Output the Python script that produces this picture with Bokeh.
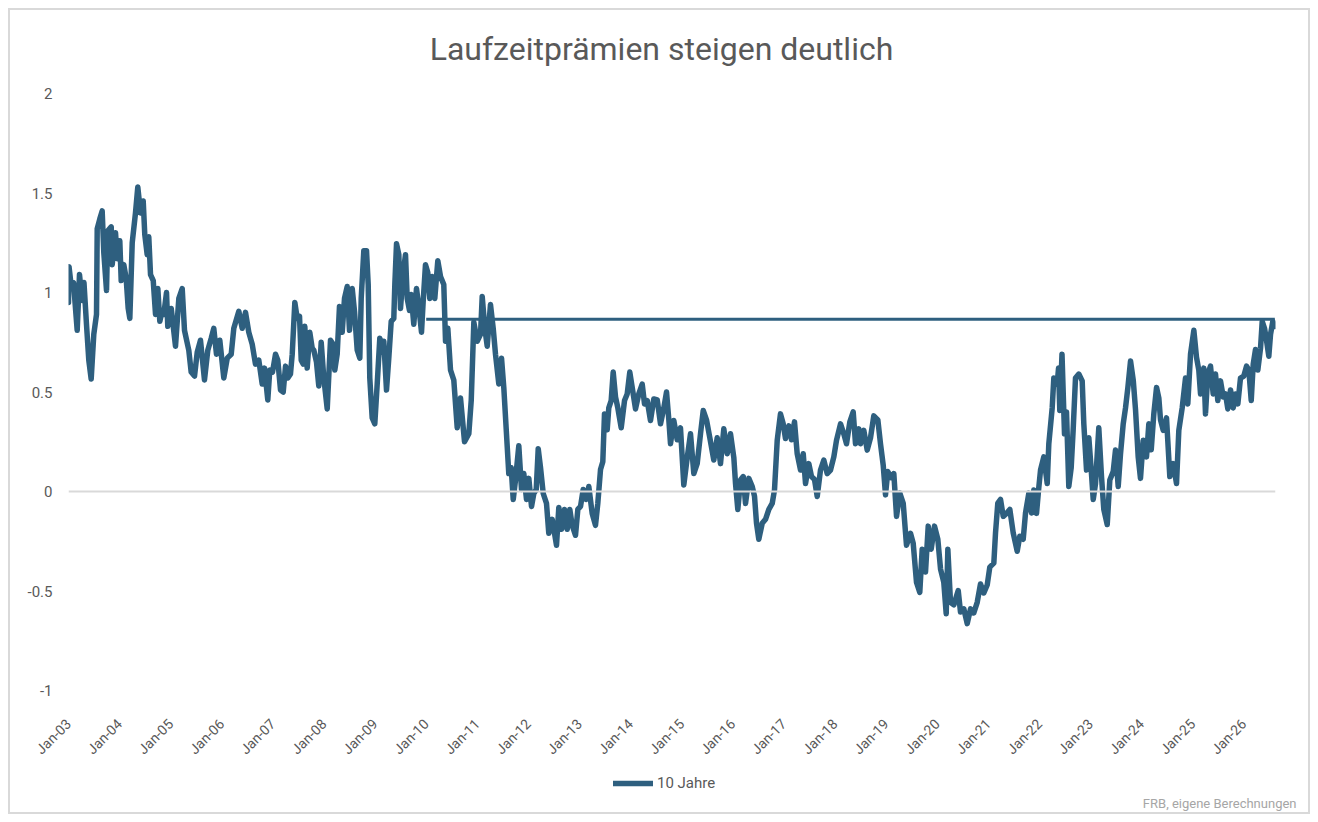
from math import pi
from bokeh.plotting import figure
from bokeh.layouts import column
from bokeh.models import Range1d, FixedTicker, Span, Legend, LegendItem, Title, Label
from bokeh.embed import file_html
from bokeh.resources import INLINE

chart_title = "Laufzeitprämien steigen deutlich"
source_note = "FRB, eigene Berechnungen"
series_name = "10 Jahre"

tick_years = list(range(2003, 2027))
tick_labels = ["Jan-03", "Jan-04", "Jan-05", "Jan-06", "Jan-07", "Jan-08",
               "Jan-09", "Jan-10", "Jan-11", "Jan-12", "Jan-13", "Jan-14",
               "Jan-15", "Jan-16", "Jan-17", "Jan-18", "Jan-19", "Jan-20",
               "Jan-21", "Jan-22", "Jan-23", "Jan-24", "Jan-25", "Jan-26"]
y_ticks = [-1, -0.5, 0, 0.5, 1, 1.5, 2]
y_tick_labels = ["-1", "-0.5", "0", "0.5", "1", "1.5", "2"]

# reference level drawn from 2010 onward
level_value = 0.865
level_start = 2010.0

# 10-year term premium, dates as decimal years
dates_2003 = [2003.000, 2003.010, 2003.059, 2003.098, 2003.170, 2003.215, 2003.268, 2003.303, 2003.352, 2003.397,
              2003.444, 2003.495, 2003.548, 2003.562, 2003.613, 2003.659, 2003.691, 2003.744, 2003.769, 2003.836,
              2003.855, 2003.920, 2003.953, 2004.004, 2004.031, 2004.082, 2004.129, 2004.168, 2004.200, 2004.247,
              2004.311, 2004.356, 2004.409, 2004.462, 2004.493, 2004.540, 2004.571, 2004.605, 2004.658, 2004.703,
              2004.748, 2004.787, 2004.834, 2004.865, 2004.918, 2004.943, 2005.010, 2005.094, 2005.159, 2005.225,
              2005.270, 2005.354, 2005.401, 2005.466, 2005.519, 2005.583, 2005.661, 2005.726, 2005.793, 2005.843,
              2005.896, 2005.961, 2006.039, 2006.106, 2006.184, 2006.235, 2006.333, 2006.399, 2006.464, 2006.528,
              2006.595, 2006.659, 2006.724, 2006.791, 2006.836, 2006.900, 2006.939]
values_2003 = [0.95, 1.13, 1.02, 1.05, 0.81, 1.09, 0.96, 1.05, 0.84, 0.66,
               0.565, 0.79, 0.89, 1.32, 1.37, 1.41, 1.20, 1.01, 1.31, 1.33,
               1.14, 1.30, 1.17, 1.26, 1.06, 1.14, 1.07, 0.92, 0.87, 1.25,
               1.40, 1.53, 1.40, 1.46, 1.29, 1.19, 1.28, 1.09, 1.06, 0.89,
               1.02, 0.855, 0.91, 0.89, 1.00, 0.83, 0.92, 0.73, 0.97, 1.02,
               0.81, 0.71, 0.60, 0.58, 0.70, 0.76, 0.56, 0.71, 0.77, 0.82,
               0.69, 0.76, 0.57, 0.67, 0.69, 0.82, 0.905, 0.82, 0.90, 0.80,
               0.74, 0.64, 0.66, 0.54, 0.62, 0.46, 0.61]

dates_2007 = [2006.992, 2007.051, 2007.096, 2007.149, 2007.202, 2007.247, 2007.292, 2007.344, 2007.378, 2007.429,
              2007.476, 2007.521, 2007.554, 2007.593, 2007.624, 2007.671, 2007.722, 2007.769, 2007.800, 2007.853,
              2007.898, 2007.945, 2007.996, 2008.063, 2008.127, 2008.180, 2008.211, 2008.258, 2008.303, 2008.356,
              2008.401, 2008.454, 2008.499, 2008.552, 2008.597, 2008.650, 2008.701, 2008.728, 2008.779, 2008.832,
              2008.865, 2008.896, 2008.943, 2008.994, 2009.041, 2009.092, 2009.139, 2009.170, 2009.223, 2009.268,
              2009.315, 2009.366, 2009.386, 2009.419, 2009.464, 2009.497, 2009.550, 2009.595, 2009.628, 2009.673,
              2009.706, 2009.757, 2009.810, 2009.855, 2009.908, 2009.941, 2009.986, 2010.031, 2010.070, 2010.117,
              2010.168, 2010.227, 2010.280]
values_2007 = [0.60, 0.69, 0.66, 0.51, 0.50, 0.63, 0.57, 0.59, 0.69, 0.95,
               0.87, 0.88, 0.66, 0.64, 0.83, 0.62, 0.80, 0.72, 0.71, 0.65,
               0.53, 0.75, 0.57, 0.415, 0.76, 0.74, 0.61, 0.69, 0.93, 0.80,
               0.97, 1.03, 0.81, 1.02, 0.905, 0.71, 0.67, 0.97, 1.21, 1.21,
               1.04, 0.57, 0.37, 0.34, 0.54, 0.77, 0.70, 0.755, 0.51, 0.67,
               0.855, 0.87, 1.04, 1.245, 1.19, 0.92, 1.10, 1.19, 0.97, 0.91,
               0.99, 0.84, 1.02, 0.93, 0.80, 0.955, 1.14, 1.10, 0.97, 1.08,
               0.97, 1.16, 1.08]

dates_2010 = [2010.344, 2010.378, 2010.423, 2010.476, 2010.540, 2010.607, 2010.671, 2010.750, 2010.834, 2010.881,
              2010.932, 2010.998, 2011.063, 2011.096, 2011.147, 2011.194, 2011.258, 2011.311, 2011.356, 2011.421,
              2011.474, 2011.519, 2011.571, 2011.616, 2011.663, 2011.703, 2011.748, 2011.812, 2011.865, 2011.910,
              2011.963, 2012.008, 2012.061, 2012.106, 2012.153, 2012.192, 2012.237, 2012.290, 2012.354, 2012.399,
              2012.466, 2012.511, 2012.550, 2012.595, 2012.648, 2012.706, 2012.759, 2012.810, 2012.857, 2012.922,
              2012.967, 2013.020, 2013.072, 2013.131, 2013.182, 2013.248, 2013.313, 2013.358, 2013.411, 2013.456,
              2013.489, 2013.542, 2013.573, 2013.620, 2013.659, 2013.705, 2013.750, 2013.816, 2013.881, 2013.933,
              2013.984, 2014.051, 2014.096, 2014.160, 2014.227, 2014.272, 2014.325, 2014.389]
values_2010 = [1.04, 0.755, 0.82, 0.61, 0.56, 0.32, 0.47, 0.25, 0.29, 0.457,
               0.85, 0.755, 0.79, 0.98, 0.82, 0.73, 0.94, 0.82, 0.69, 0.54,
               0.67, 0.52, 0.29, 0.09, 0.12, -0.04, 0.06, 0.23, 0.01, 0.09,
               -0.04, 0.066, -0.075, -0.01, 0.01, 0.215, 0.12, -0.01, -0.06, -0.21,
               -0.14, -0.21, -0.27, -0.08, -0.19, -0.09, -0.19, -0.09, -0.17, -0.22,
               -0.09, -0.075, 0.01, -0.04, 0.025, -0.11, -0.17, -0.06, 0.11, 0.15,
               0.39, 0.31, 0.42, 0.457, 0.60, 0.475, 0.42, 0.32, 0.457, 0.49,
               0.60, 0.49, 0.415, 0.49, 0.54, 0.44, 0.457, 0.357]

dates_2014 = [2014.454, 2014.521, 2014.585, 2014.650, 2014.703, 2014.748, 2014.781, 2014.845, 2014.912, 2014.976,
              2015.041, 2015.108, 2015.172, 2015.237, 2015.303, 2015.368, 2015.421, 2015.485, 2015.550, 2015.628,
              2015.695, 2015.759, 2015.824, 2015.890, 2015.955, 2016.020, 2016.053, 2016.098, 2016.151, 2016.204,
              2016.249, 2016.313, 2016.380, 2016.425, 2016.464, 2016.509, 2016.575, 2016.640, 2016.705, 2016.771,
              2016.816, 2016.869, 2016.933, 2016.986, 2017.031, 2017.096, 2017.149, 2017.207, 2017.260, 2017.325,
              2017.378, 2017.423, 2017.487, 2017.540, 2017.599, 2017.652, 2017.716, 2017.781, 2017.847, 2017.912,
              2017.977, 2018.029, 2018.108, 2018.172, 2018.225, 2018.290, 2018.356, 2018.401, 2018.466]
values_2014 = [0.465, 0.46, 0.34, 0.42, 0.50, 0.36, 0.24, 0.357, 0.26, 0.32,
               0.033, 0.17, 0.29, 0.09, 0.14, 0.29, 0.407, 0.36, 0.27, 0.158,
               0.27, 0.14, 0.315, 0.19, 0.29, 0.17, 0.04, -0.09, 0.058, 0.075,
               -0.06, 0.066, 0.025, -0.025, -0.16, -0.24, -0.16, -0.14, -0.09, -0.06,
               0.008, 0.257, 0.39, 0.34, 0.266, 0.33, 0.26, 0.35, 0.19, 0.108,
               0.19, 0.04, 0.14, 0.075, 0.06, -0.025, 0.108, 0.158, 0.09, 0.108,
               0.174, 0.257, 0.34, 0.29, 0.24, 0.35, 0.40, 0.24, 0.315]

dates_2018 = [2018.499, 2018.564, 2018.630, 2018.695, 2018.759, 2018.838, 2018.890, 2018.943, 2018.988, 2019.033,
              2019.100, 2019.151, 2019.204, 2019.268, 2019.335, 2019.399, 2019.477, 2019.530, 2019.595, 2019.659,
              2019.706, 2019.771, 2019.824, 2019.882, 2019.947, 2020.012, 2020.065, 2020.129, 2020.176, 2020.208,
              2020.260, 2020.325, 2020.411, 2020.456, 2020.521, 2020.587, 2020.652, 2020.716, 2020.783, 2020.847,
              2020.912, 2020.978, 2021.029, 2021.108, 2021.141, 2021.186, 2021.239, 2021.292, 2021.356, 2021.421,
              2021.487, 2021.565, 2021.616, 2021.683, 2021.728, 2021.793, 2021.845, 2021.890, 2021.943, 2021.988,
              2022.022, 2022.086, 2022.153, 2022.184, 2022.250, 2022.282, 2022.348, 2022.374, 2022.399, 2022.442,
              2022.491, 2022.530, 2022.575]
values_2018 = [0.24, 0.307, 0.208, 0.27, 0.38, 0.36, 0.24, 0.133, -0.017, 0.10,
               0.07, 0.09, -0.125, -0.008, -0.06, -0.27, -0.21, -0.26, -0.457, -0.507,
               -0.29, -0.405, -0.174, -0.29, -0.174, -0.24, -0.39, -0.457, -0.614, -0.29,
               -0.557, -0.57, -0.498, -0.606, -0.59, -0.664, -0.59, -0.61, -0.557, -0.465,
               -0.51, -0.47, -0.38, -0.36, -0.208, -0.058, -0.04, -0.125, -0.11, -0.09,
               -0.208, -0.30, -0.225, -0.24, -0.108, -0.008, -0.108, 0.008, -0.11, 0.02,
               0.108, 0.174, 0.04, 0.24, 0.42, 0.57, 0.54, 0.62, 0.407, 0.69,
               0.29, 0.40, 0.025]

dates_2022 = [2022.622, 2022.660, 2022.706, 2022.771, 2022.837, 2022.869, 2022.922, 2022.967, 2023.014, 2023.053,
              2023.098, 2023.162, 2023.215, 2023.260, 2023.327, 2023.378, 2023.444, 2023.489, 2023.542, 2023.587,
              2023.640, 2023.685, 2023.730, 2023.783, 2023.836, 2023.881, 2023.933, 2023.978, 2024.031, 2024.096,
              2024.141, 2024.188, 2024.239, 2024.292, 2024.337, 2024.370, 2024.423, 2024.487, 2024.552, 2024.618,
              2024.683, 2024.728, 2024.794, 2024.859, 2024.904, 2024.957, 2025.022, 2025.074, 2025.119, 2025.153,
              2025.217, 2025.250, 2025.295, 2025.348, 2025.401, 2025.446, 2025.491, 2025.544, 2025.597, 2025.642,
              2025.687, 2025.740, 2025.793, 2025.838, 2025.883, 2025.935, 2026.000, 2026.053, 2026.098, 2026.145,
              2026.184, 2026.229, 2026.274, 2026.327, 2026.360, 2026.405, 2026.444, 2026.489, 2026.523, 2026.568,
              2026.607]
values_2022 = [0.12, 0.307, 0.57, 0.59, 0.556, 0.34, 0.108, 0.27, 0.108, -0.04,
               0.04, 0.32, 0.075, -0.09, -0.166, 0.058, 0.10, 0.208, 0.025, 0.19,
               0.34, 0.42, 0.52, 0.656, 0.56, 0.41, 0.174, 0.066, 0.257, 0.174,
               0.34, 0.21, 0.39, 0.523, 0.47, 0.36, 0.307, 0.37, 0.075, 0.14,
               0.04, 0.307, 0.42, 0.57, 0.44, 0.69, 0.81, 0.675, 0.61, 0.49,
               0.62, 0.39, 0.59, 0.63, 0.49, 0.59, 0.457, 0.556, 0.475, 0.49,
               0.415, 0.51, 0.42, 0.49, 0.44, 0.57, 0.58, 0.63, 0.61, 0.457,
               0.64, 0.714, 0.61, 0.72, 0.855, 0.82, 0.76, 0.68, 0.79, 0.855,
               0.83]

dates = dates_2003 + dates_2007 + dates_2010 + dates_2014 + dates_2018 + dates_2022
term_premium = values_2003 + values_2007 + values_2010 + values_2014 + values_2018 + values_2022
assert len(dates) == len(term_premium)

line_color = "#2E5F7F"
text_color = "#595959"
narrow_font = "Liberation Sans Narrow, Roboto, sans-serif"
x_range = Range1d(2003.0, 2026.62)


def strip(height, **kw):
    f = figure(width=1298, height=height, x_range=x_range, y_range=Range1d(5, 6),
               output_backend="svg", toolbar_location=None,
               x_axis_location=None, y_axis_location=None, **kw)
    f.outline_line_color = None
    f.grid.visible = False
    return f


# title strip
head = strip(60, min_border=0)
head.add_layout(Label(x=593, y=22, x_units="screen", y_units="screen",
                      text=chart_title, text_align="center", text_baseline="alphabetic",
                      text_font="Roboto", text_font_size="32px", text_color=text_color))

# main chart
p = figure(width=1298, height=695, x_range=x_range, y_range=Range1d(-1, 2),
           output_backend="svg", toolbar_location=None,
           min_border_left=58, min_border_right=33,
           min_border_top=23, min_border_bottom=70)
p.outline_line_color = None
p.grid.visible = False

p.xaxis.ticker = FixedTicker(ticks=tick_years)
p.xaxis.major_label_overrides = dict(zip(tick_years, tick_labels))
p.xaxis.major_label_orientation = pi / 4
p.xaxis.major_label_standoff = 31
p.xaxis.major_label_text_font = narrow_font
p.xaxis.major_label_text_font_size = "14px"

p.yaxis.ticker = FixedTicker(ticks=y_ticks)
p.yaxis.major_label_overrides = dict(zip(y_ticks, y_tick_labels))
p.yaxis.major_label_standoff = 16
p.yaxis.major_label_text_font = "Roboto"
p.yaxis.major_label_text_font_size = "15px"

for ax in (p.xaxis, p.yaxis):
    ax.axis_line_color = None
    ax.major_tick_line_color = None
    ax.minor_tick_line_color = None
    ax.major_tick_out = 0
    ax.major_label_text_color = text_color

p.add_layout(Span(location=0, dimension="width", line_color="#d9d9d9", line_width=2))

p.line(dates, term_premium, line_color=line_color, line_width=5.5,
       line_join="round", line_cap="round")
p.line([level_start, dates[-1]], [level_value, level_value],
       line_color=line_color, line_width=3)

# strip underneath: legend and source note
foot = strip(47, min_border_top=0, min_border_bottom=20)
key = foot.line(dates, term_premium, line_color=line_color, line_width=5.5,
                line_cap="round")  # series lies outside this strip's y range, only its key shows

legend = Legend(items=[LegendItem(label=series_name, renderers=[key])],
                location=(545, 0), orientation="horizontal",
                border_line_color=None, background_fill_alpha=0,
                padding=0, margin=0, glyph_width=40, glyph_height=14,
                label_height=14, label_standoff=4, label_text_font_size="15px",
                label_text_color=text_color, label_text_font=narrow_font)
foot.add_layout(legend, "center")

foot.add_layout(Title(text=source_note, align="right", offset=-21, standoff=2,
                      text_font=narrow_font, text_font_size="13px",
                      text_font_style="normal", text_color="#a6a6a6"), "below")

page = column(head, p, foot, spacing=0,
              styles={"border": "2px solid #d9d9d9", "margin-left": "8px", "margin-top": "8px"})

open("out.html", "w").write(file_html(page, INLINE, chart_title))
